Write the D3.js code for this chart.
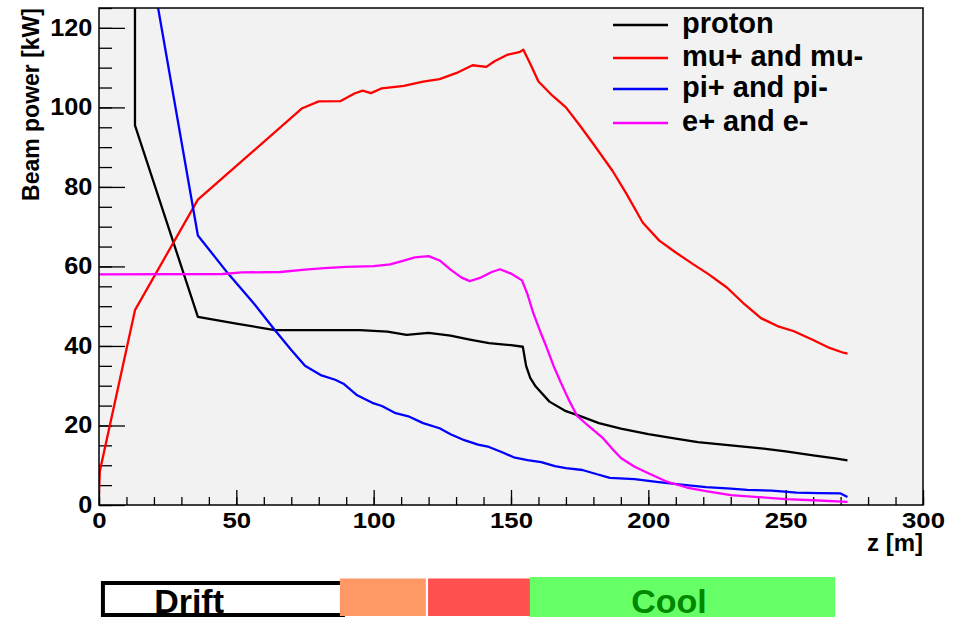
<!DOCTYPE html>
<html lang="en">
<head>
    <meta charset="utf-8">
    <title>Beam power</title>
    <style>
        html, body {margin: 0;padding: 0;background: #fff;}
        svg {display: block;font-family: "Liberation Sans", Arial, Helvetica, sans-serif;font-weight: bold;}
        .tick line {stroke: #000;stroke-width: 1.3;}
        .tick text {fill: #000;}
    </style>
</head>
<body>
<div id="chart"></div>
<script src="https://cdnjs.cloudflare.com/ajax/libs/d3/7.8.5/d3.min.js"></script>
<script>
  // [z (m), beam power (kW)]
  var proton = [[13.1, 140], [13.1, 95.5], [36, 47.3], [50, 45.6], [64, 44], [80, 44], [95, 44], [105, 43.6],
    [112, 42.8], [120, 43.3], [128, 42.6], [135, 41.6], [142, 40.7], [150, 40.2], [154.3, 39.8], [155.5, 35],
    [157, 32], [159, 29.8], [164, 26], [170, 23.6], [175, 22.4], [182, 20.6], [190, 19.2], [200, 17.8],
    [210, 16.7], [218, 15.8], [230, 15], [242, 14.2], [250, 13.5], [260, 12.5], [268, 11.7], [272.5, 11.2]];

  var muons = [[0, 3], [0.3, 8.5], [13.1, 49], [36, 76.8], [55, 88.3], [74, 99.8], [80, 101.5], [88, 101.6],
    [93, 103.5], [96, 104.2], [99, 103.6], [103, 104.8], [111, 105.4], [118, 106.5], [124, 107.1], [130, 108.6],
    [136, 110.6], [141, 110.2], [144, 111.6], [148.5, 113.2], [153, 113.9], [154.5, 114.5], [157, 111],
    [160, 106.5], [165, 103], [170, 100], [175, 95.5], [180, 90.8], [187, 84], [192, 78.3], [198, 71],
    [204, 66.5], [210, 63.5], [216, 60.7], [222, 58], [228.6, 54.7], [235, 50.5], [241, 47], [247, 45],
    [253, 43.7], [260, 41.5], [266, 39.5], [271, 38.3], [272.5, 38.1]];

  var pions = [[20, 131], [36, 67.8], [47, 58.2], [56, 51], [64, 44], [70, 39], [75, 35], [81, 32.6], [86, 31.5],
    [89, 30.5], [94, 27.6], [99.5, 25.7], [103, 24.9], [108, 23.1], [113, 22.2], [118, 20.6], [124, 19.3],
    [128, 17.8], [133, 16.3], [138, 15.2], [142, 14.6], [147, 13.2], [151, 12], [156, 11.3], [161, 10.8],
    [166, 9.8], [170, 9.3], [176, 8.8], [181, 7.8], [186, 6.8], [195, 6.5], [203, 5.8], [212, 5.1], [221, 4.5],
    [230, 4.1], [236, 3.8], [245, 3.6], [254, 3.1], [262, 3.0], [270, 2.9], [272.5, 2.0]];

  var electrons = [[0, 58], [45, 58.1], [52, 58.5], [66, 58.6], [75, 59.2], [82, 59.6], [90, 59.9], [100, 60.1],
    [106, 60.5], [110, 61.3], [115, 62.3], [120, 62.6], [124, 61.5], [128, 59.2], [132, 57.2], [135, 56.3],
    [139, 57.2], [143, 58.6], [146, 59.3], [150, 58.2], [154, 56.5], [156, 53], [158, 48.5], [161, 43],
    [163, 39.6], [165.5, 35], [168, 31], [171, 26.5], [174, 22.5], [178, 20], [183.5, 16.8], [187, 14],
    [190, 11.8], [195, 9.6], [200, 8], [207, 5.8], [214, 4.4], [221, 3.5], [230, 2.5], [240, 2], [250, 1.5],
    [260, 1.2], [272.5, 0.8]];

  var seriesNames = ['proton', 'mu+ and mu-', 'pi+ and pi-', 'e+ and e-'];
  var seriesColors = ['#000000', '#ff0000', '#0000ff', '#ff00ff'];

  var xMajor = [0, 50, 100, 150, 200, 250, 300];
  var yMajor = [0, 20, 40, 60, 80, 100, 120];

  // beamline sections along z (m) shown under the plot
  var stageNames = ['Drift', '', '', 'Cool'];
  var stageStart = [0.7, 87.7, 119.8, 156.9];
  var stageEnd = [88.8, 119, 156.9, 268];
  var stageLabelZ = [32.8, 103, 138, 207.5];
  var stageColors = ['#ffffff', '#fe9966', '#ff5050', '#66ff66'];
  var stageText = ['#000000', '#000000', '#000000', '#008800'];

  var W = 961, H = 619;
  var plotL = 99, plotR = 923, plotT = 8, plotB = 505;

  var x = d3.scaleLinear().domain([0, 300]).range([plotL, plotR]);
  var y = d3.scaleLinear().domain([0, 125]).range([plotB, plotT]);

  var svg = d3.select('#chart').append('svg')
    .attr('width', W)
    .attr('height', H);

  svg.append('rect').attr('width', W).attr('height', H).attr('fill', '#fff');

  svg.append('clipPath').attr('id', 'plot-clip')
    .append('rect')
    .attr('x', plotL).attr('y', plotT)
    .attr('width', plotR - plotL).attr('height', plotB - plotT);

  svg.append('rect')
    .attr('x', plotL).attr('y', plotT)
    .attr('width', plotR - plotL).attr('height', plotB - plotT)
    .attr('fill', '#f2f2f2');

  // minor ticks first, then major ticks with labels
  var xMinor = d3.range(0, 301, 10);
  var yMinor = d3.range(0, 126, 5);

  svg.append('g')
    .attr('transform', 'translate(0,' + plotB + ')')
    .call(d3.axisBottom(x).tickValues(xMinor).tickSize(-8).tickFormat(''))
    .call(function (g) { g.select('.domain').remove(); });

  svg.append('g')
    .attr('transform', 'translate(0,' + plotB + ')')
    .call(d3.axisBottom(x).tickValues(xMajor).tickSize(-15).tickPadding(7).tickFormat(d3.format('d')))
    .call(function (g) {
      g.select('.domain').remove();
      g.selectAll('text').attr('font-size', 23).attr('font-family', null)
        .attr('transform', 'scale(1.12,1)');
    });

  svg.append('g')
    .attr('transform', 'translate(' + plotL + ',0)')
    .call(d3.axisLeft(y).tickValues(yMinor).tickSize(-13).tickFormat(''))
    .call(function (g) { g.select('.domain').remove(); });

  svg.append('g')
    .attr('transform', 'translate(' + plotL + ',0)')
    .call(d3.axisLeft(y).tickValues(yMajor).tickSize(-26).tickPadding(6).tickFormat(d3.format('d')))
    .call(function (g) {
      g.select('.domain').remove();
      g.selectAll('text').attr('font-size', 23).attr('font-family', null)
        .attr('transform', 'scale(1.1,1)');
    });

  var line = d3.line()
    .x(function (d) { return x(d[0]); })
    .y(function (d) { return y(d[1]); });

  var allSeries = [proton, muons, pions, electrons];

  svg.append('g')
    .attr('clip-path', 'url(#plot-clip)')
    .selectAll('path')
    .data(allSeries)
    .join('path')
    .attr('d', line)
    .attr('fill', 'none')
    .attr('stroke', function (d, i) { return seriesColors[i]; })
    .attr('stroke-width', 2.3)
    .attr('stroke-linejoin', 'round');

  // frame
  svg.append('rect')
    .attr('x', plotL).attr('y', plotT)
    .attr('width', plotR - plotL).attr('height', plotB - plotT)
    .attr('fill', 'none')
    .attr('stroke', '#000')
    .attr('stroke-width', 1.5);

  // legend
  var legendY = [25, 58, 89, 123];
  var legend = svg.append('g').selectAll('g')
    .data(seriesNames)
    .join('g')
    .attr('transform', function (d, i) { return 'translate(613,' + legendY[i] + ')'; });

  legend.append('line')
    .attr('x1', 0).attr('x2', 55)
    .attr('stroke', function (d, i) { return seriesColors[i]; })
    .attr('stroke-width', 2.3);

  legend.append('text')
    .attr('x', 69)
    .attr('y', 8)
    .attr('font-size', 29)
    .text(function (d) { return d; });

  // axis titles
  svg.append('text')
    .attr('transform', 'translate(39,' + plotT + ') rotate(-90)')
    .attr('text-anchor', 'end')
    .attr('font-size', 23)
    .text('Beam power [kW]');

  svg.append('text')
    .attr('x', plotR)
    .attr('y', 551)
    .attr('text-anchor', 'end')
    .attr('font-size', 24)
    .text('z [m]');

  // beamline sections bar
  var stages = svg.append('g').selectAll('g')
    .data(stageNames)
    .join('g');

  stages.append('rect')
    .attr('x', function (d, i) { return x(stageStart[i]) + (i === 0 ? 2 : 0); })
    .attr('y', function (d, i) { return i === 0 ? 583 : (i === 3 ? 577 : 578.5); })
    .attr('width', function (d, i) { return x(stageEnd[i]) - x(stageStart[i]) - (i === 0 ? 2 : 0); })
    .attr('height', function (d, i) { return i === 0 ? 32 : (i === 3 ? 40 : 37.5); })
    .attr('fill', function (d, i) { return stageColors[i]; })
    .attr('stroke', function (d, i) { return i === 0 ? '#000' : 'none'; })
    .attr('stroke-width', 4);

  stages.append('text')
    .attr('x', function (d, i) { return x(stageLabelZ[i]); })
    .attr('y', 613)
    .attr('text-anchor', 'middle')
    .attr('font-size', 34)
    .attr('fill', function (d, i) { return stageText[i]; })
    .text(function (d) { return d; });
</script>
</body>
</html>
